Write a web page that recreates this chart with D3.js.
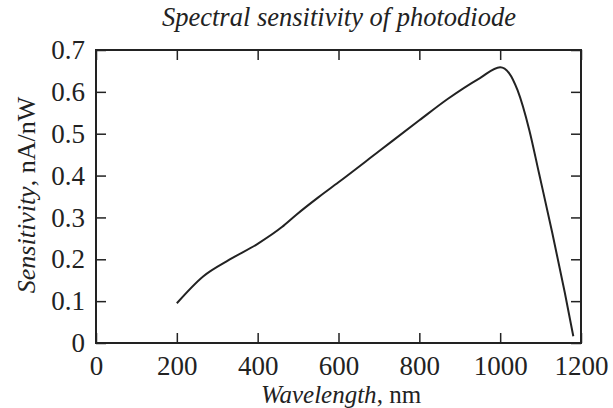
<!DOCTYPE html>
<html>
<head>
<meta charset="utf-8">
<script src="https://cdn.jsdelivr.net/npm/d3@7.9.0/dist/d3.min.js"></script>
<style>
  body { margin: 0; background: #fff; }
</style>
</head>
<body>
<svg id="chart" width="613" height="408"></svg>
<script>
// wavelength (nm) and sensitivity (nA/nW)
const wavelength = [200, 265, 330, 400, 460, 495, 550, 600, 700, 800, 870, 950, 1000, 1022, 1043, 1072, 1096, 1129, 1160, 1181];
const sensitivity = [0.095, 0.159, 0.199, 0.237, 0.277, 0.306, 0.348, 0.384, 0.458, 0.532, 0.583, 0.633, 0.659, 0.645, 0.604, 0.509, 0.406, 0.263, 0.12, 0.016];
const xTicks = [0, 200, 400, 600, 800, 1000, 1200];
const yTicks = [0, 0.1, 0.2, 0.3, 0.4, 0.5, 0.6, 0.7];

const FONT = '"Liberation Serif", "Times New Roman", Times, serif';
const ink = '#222';

const svg = d3.select('#chart').attr('font-family', FONT);
const margin = { left: 96, right: 32, top: 50, bottom: 65 };
const W = 613, H = 408;

const x = d3.scaleLinear().domain([0, 1200]).range([margin.left, W - margin.right]);
const y = d3.scaleLinear().domain([0, 0.7]).range([H - margin.bottom, margin.top]);

const tickLen = 10;

// axes with inward ticks on all sides
function styleAxis(g) {
  g.attr('font-family', FONT).attr('font-size', 27);
  g.select('.domain').remove();
  g.selectAll('.tick line').attr('stroke', ink).attr('stroke-width', 1.5);
  g.selectAll('.tick text').attr('fill', ink);
}

svg.append('g')
  .attr('transform', `translate(0,${y(0)})`)
  .call(d3.axisBottom(x).tickValues(xTicks).tickSize(-tickLen).tickPadding(12.5).tickFormat(d3.format('d')))
  .call(styleAxis);

svg.append('g')
  .attr('transform', `translate(0,${y(0.7)})`)
  .call(d3.axisTop(x).tickValues(xTicks).tickSize(-tickLen).tickFormat(''))
  .call(styleAxis);

svg.append('g')
  .attr('transform', `translate(${x(0)},0)`)
  .call(d3.axisLeft(y).tickValues(yTicks).tickSize(-tickLen).tickPadding(11).tickFormat(d => d === 0 ? '0' : d3.format('.1f')(d)))
  .call(styleAxis);

svg.append('g')
  .attr('transform', `translate(${x(1200)},0)`)
  .call(d3.axisRight(y).tickValues(yTicks).tickSize(-tickLen).tickFormat(''))
  .call(styleAxis);

// frame
svg.append('rect')
  .attr('x', x(0)).attr('y', y(0.7))
  .attr('width', x(1200) - x(0)).attr('height', y(0) - y(0.7))
  .attr('fill', 'none').attr('stroke', ink).attr('stroke-width', 2);

// curve
const pts = wavelength.map((w, i) => [w, sensitivity[i]]);
const line = d3.line().x(d => x(d[0])).y(d => y(d[1])).curve(d3.curveMonotoneX);
svg.append('path')
  .datum(pts)
  .attr('d', line)
  .attr('fill', 'none')
  .attr('stroke', ink)
  .attr('stroke-width', 2);

// title
svg.append('text')
  .attr('x', 339).attr('y', 26)
  .attr('text-anchor', 'middle')
  .attr('font-size', 26.5)
  .attr('font-style', 'italic')
  .attr('fill', ink)
  .text('Spectral sensitivity of photodiode');

// x label
const xl = svg.append('text')
  .attr('x', 341).attr('y', 403)
  .attr('text-anchor', 'middle')
  .attr('font-size', 25)
  .attr('fill', ink);
xl.append('tspan').attr('font-style', 'italic').text('Wavelength');
xl.append('tspan').text(', nm');

// y label
const yl = svg.append('text')
  .attr('transform', 'translate(35,195) rotate(-90)')
  .attr('text-anchor', 'middle')
  .attr('font-size', 26)
  .attr('fill', ink);
yl.append('tspan').attr('font-style', 'italic').text('Sensitivity');
yl.append('tspan').text(', nA/nW');
</script>
</body>
</html>
